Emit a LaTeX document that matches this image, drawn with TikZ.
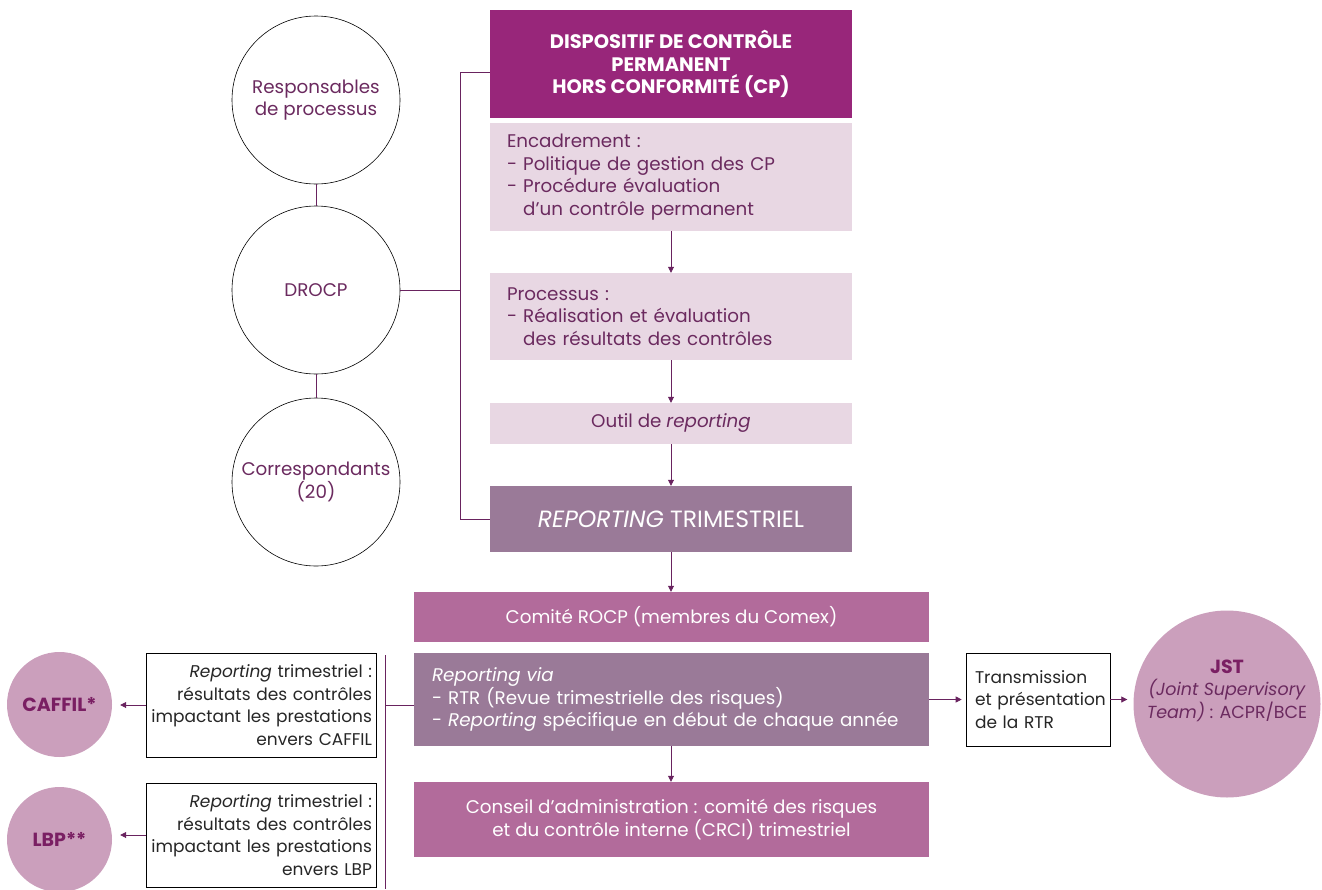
\documentclass[tikz,border=0pt]{standalone}
\usepackage{fontspec}
\setmainfont{Poppins}
\usetikzlibrary{arrows.meta}
\definecolor{cTop}{RGB}{152,38,122}
\definecolor{cLight}{RGB}{232,215,227}
\definecolor{cMuted}{RGB}{154,122,152}
\definecolor{cPink}{RGB}{178,107,155}
\definecolor{cCircle}{RGB}{203,159,188}
\definecolor{cText}{RGB}{107,42,95}
\definecolor{cLine}{RGB}{105,35,95}
\definecolor{cBold}{RGB}{122,31,99}
\tikzset{
  txt/.style={font=\fontsize{18.3}{22.5}\selectfont},
  stxt/.style={font=\fontsize{17}{22.5}\selectfont},
  box/.style={txt, inner sep=0pt, draw=none},
  lightbox/.style={box, fill=cLight, text=cText, minimum width=362pt},
  wc/.style={circle, draw=black, line width=0.6pt, fill=white, minimum size=168pt, inner sep=0pt, txt, text=cText, align=center},
  pc/.style={circle, fill=cCircle, minimum size=105pt, inner sep=0pt, align=center, text=cBold, font=\fontsize{19}{22.5}\selectfont\bfseries},
  wbox/.style={box, stxt, draw=black, line width=0.6pt, fill=white, text=black!85},
  conn/.style={draw=cLine, line width=0.8pt},
  arr/.style={conn, -{Triangle[length=6pt,width=6pt]}}
}
\begin{document}
\begin{tikzpicture}[x=1pt,y=-1pt]
\useasboundingbox (0,0) rectangle (1322,889);
% circles
\node[wc] (resp) at (316,100) {Responsables\\de processus};
\node[wc] (drocp) at (316,290) {DROCP};
\node[wc] (corr) at (316,482) {Correspondants\\(20)};
\draw[conn] (resp.south) -- (drocp.north);
\draw[conn] (drocp.south) -- (corr.north);
% main column
\node[box, fill=cTop, text=white, minimum width=362pt, minimum height=108pt, align=center, font=\fontsize{19.5}{22.5}\selectfont\bfseries] (top) at (671,64) {DISPOSITIF DE CONTRÔLE\\PERMANENT\\HORS CONFORMITÉ (CP)};
\node[lightbox, minimum height=108pt, text width=328pt, align=left, inner xsep=17pt] (enc) at (671,177) {Encadrement :\\- Politique de gestion des CP\\- Procédure évaluation\\\phantom{-} d’un contrôle permanent};
\node[lightbox, minimum height=87pt, text width=328pt, align=left, inner xsep=17pt] (proc) at (671,316.5) {Processus :\\- Réalisation et évaluation\\\phantom{-} des résultats des contrôles};
\node[lightbox, minimum height=41pt, align=center] (outil) at (671,423.5) {Outil de \textit{reporting}};
\node[box, fill=cMuted, text=white, minimum width=362pt, minimum height=66pt, font=\fontsize{23.5}{26}\selectfont] (rep) at (671,519) {\textit{REPORTING} TRIMESTRIEL};
\draw[arr] (enc.south) -- (proc.north);
\draw[arr] (proc.south) -- (outil.north);
\draw[arr] (outil.south) -- (rep.north);
% bracket
\coordinate (bt) at (460,72);
\coordinate (bb) at (460,519);
\draw[conn] (top.west |- bt) -- (bt) -- (bb) -- (rep.west);
\draw[conn] (drocp.east) -- (drocp.east -| bt);
% lower column
\node[box, fill=cPink, text=white, minimum width=515pt, minimum height=50pt] (comite) at (671.5,617) {Comité ROCP (membres du Comex)};
\node[box, fill=cMuted, text=white, minimum width=515pt, minimum height=93pt, text width=479pt, inner xsep=18pt, align=left] (via) at (671.5,699.5) {\textit{Reporting via}\\- RTR (Revue trimestrielle des risques)\\- \textit{Reporting} spécifique en début de chaque année};
\node[box, fill=cPink, text=white, minimum width=515pt, minimum height=75pt, align=center] (conseil) at (671.5,819.5) {Conseil d’administration : comité des risques\\et du contrôle interne (CRCI) trimestriel};
\draw[arr] (rep.south) -- (rep.south |- comite.north);
\draw[arr] (via.south -| rep.south) -- (conseil.north -| rep.south);
% right side
\node[wbox, minimum width=144pt, minimum height=93pt, text width=136pt, inner xsep=4pt, align=left] (trans) at (1038,699.5) {\hspace*{5pt}Transmission\\\hspace*{5pt}et présentation\\\hspace*{5pt}de la RTR};
\node[circle, fill=cCircle, minimum size=187pt, inner sep=0pt, align=center, text=cText, font=\fontsize{17.5}{22.5}\selectfont] (jst) at (1227,704) {{\color{cBold}\fontsize{19}{22.5}\selectfont\bfseries JST}\\\textit{(Joint Supervisory}\\\textit{Team)} : ACPR/BCE\\[8pt]};
\draw[arr, shorten >=4pt] (via.east |- trans.west) -- (trans.west);
\draw[arr, shorten >=6pt] (trans.east) -- (trans.east -| jst.west);
% left side
\coordinate (lt) at (385,655);
\coordinate (lb) at (385,889);
\coordinate (lm) at (385,705);
\draw[conn] (lt) -- (lb);
\draw[conn] (lm) -- (lm -| via.west);
\node[wbox, minimum width=230pt, minimum height=104pt, text width=222pt, inner xsep=4pt, align=right] (cbox) at (261,705) {\textit{Reporting} trimestriel :\\résultats des contrôles\\impactant les prestations\\envers CAFFIL};
\node[wbox, minimum width=230pt, minimum height=104pt, text width=222pt, inner xsep=4pt, align=right] (lbox) at (261,835) {\textit{Reporting} trimestriel :\\résultats des contrôles\\impactant les prestations\\envers LBP};
\node[pc] (caffil) at (59.5,704.5) {CAFFIL*};
\node[pc] (lbp) at (59.5,839.5) {LBP**};
\draw[arr, shorten >=8pt] (cbox.west) -- (cbox.west -| caffil.east);
\draw[arr, shorten >=8pt] (lbox.west) -- (lbox.west -| caffil.east);
\end{tikzpicture}
\end{document}
